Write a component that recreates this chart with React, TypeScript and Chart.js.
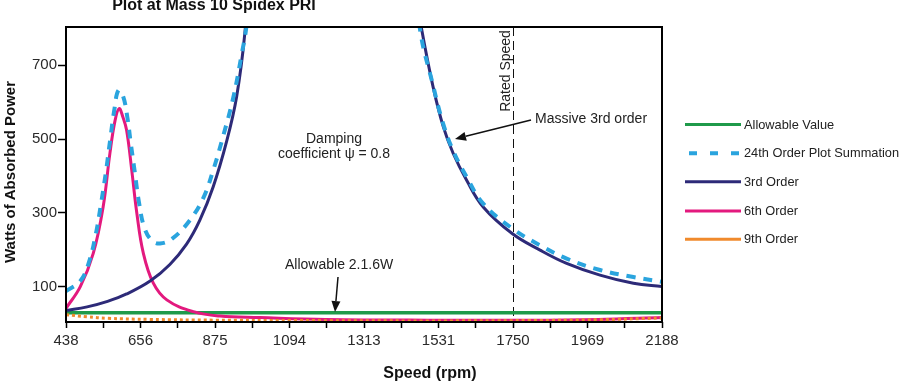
import React, { useEffect, useRef } from 'react';
import { Chart, registerables } from 'chart.js';

Chart.register(...registerables);

const FONT = "'Liberation Sans', Arial, Helvetica, sans-serif";

const chartTitle = 'Plot at Mass 10 Spidex PRI';
const xAxisTitle = 'Speed (rpm)';
const yAxisTitle = 'Watts of Absorbed Power';

const speedMin = 438;
const speedMax = 2188;
const wattsMin = 4;
const wattsMax = 804;
const xTickLabels = ['438', '656', '875', '1094', '1313', '1531', '1750', '1969', '2188'];
const yTickValues = [100, 300, 500, 700];
const ratedSpeed = 1750;
const ratedLabel = 'Rated Speed';

// Allowable Value
const allowableSpeed = [438, 2188];
const allowableWatts = [29, 29];

// 24th Order Plot Summation
const summationSpeed = [438, 480, 505, 525, 540, 555, 568, 580, 592, 606, 618, 628, 640, 652, 668, 690, 714, 750, 800, 841, 870, 900, 929, 954, 968, 985, 1220, 1460, 1477, 1516, 1546, 1575, 1614, 1663, 1748, 1830, 1908, 2006, 2104, 2188];
const summationWatts = [88, 115, 165, 240, 320, 410, 500, 580, 632, 615, 560, 490, 410, 330, 260, 225, 217, 230, 278, 340, 415, 510, 612, 731, 808, 1000, null, 1000, 800, 645, 540, 468, 398, 325, 258, 212, 176, 145, 126, 113];

// 3rd Order
const thirdSpeed = [438, 500, 560, 616, 685, 743, 792, 831, 870, 910, 939, 963, 985, 1220, 1465, 1482, 1516, 1546, 1575, 1614, 1663, 1748, 1830, 1908, 2006, 2104, 2188];
const thirdWatts = [35, 45, 60, 80, 115, 160, 215, 280, 370, 495, 615, 786, 1050, null, 900, 799, 641, 533, 461, 389, 316, 244, 199, 163, 131, 109, 100];

// 6th Order
const sixthSpeed = [438, 480, 518, 547, 567, 582, 594, 605, 616, 631, 646, 665, 694, 734, 812, 890, 1008, 1200, 1500, 1800, 2000, 2188];
const sixthWatts = [41, 100, 190, 316, 462, 550, 583, 560, 524, 416, 299, 191, 110, 64, 32, 20, 16, 11, 9, 9, 11, 16];

// 9th Order
const ninthSpeed = [438, 500, 560, 685, 875, 1100, 1500, 1800, 2000, 2188];
const ninthWatts = [24, 18, 14, 11, 9, 8, 7, 8, 10, 15];

const seriesLabels = ['Allowable Value', '24th Order Plot Summation', '3rd Order', '6th Order', '9th Order'];
const seriesColors = ['#1f9a4a', '#2aa4de', '#2d2a78', '#e3197e', '#f08a2c'];

const annotationDamping = ['Damping', 'coefficient \u03c8 = 0.8'];
const annotationMassive = 'Massive 3rd order';
const annotationAllowable = 'Allowable 2.1.6W';

const toPoints = (xs: number[], ys: (number | null)[]) => xs.map((x, i) => ({ x, y: ys[i] }));

function arrow(ctx: CanvasRenderingContext2D, x1: number, y1: number, x2: number, y2: number) {
  const ang = Math.atan2(y2 - y1, x2 - x1);
  const hl = 11;
  const hw = 4.5;
  const bx = x2 - hl * Math.cos(ang);
  const by = y2 - hl * Math.sin(ang);
  ctx.save();
  ctx.strokeStyle = '#111';
  ctx.fillStyle = '#111';
  ctx.lineWidth = 1.5;
  ctx.beginPath();
  ctx.moveTo(x1, y1);
  ctx.lineTo(bx, by);
  ctx.stroke();
  ctx.beginPath();
  ctx.moveTo(x2, y2);
  ctx.lineTo(bx + hw * Math.sin(ang), by - hw * Math.cos(ang));
  ctx.lineTo(bx - hw * Math.sin(ang), by + hw * Math.cos(ang));
  ctx.closePath();
  ctx.fill();
  ctx.restore();
}

const overlayPlugin = {
  id: 'overlay',
  beforeDatasetsDraw(chart: any) {
    const { ctx, chartArea, scales } = chart;
    const x = Math.round(scales.x.getPixelForValue(ratedSpeed)) + 0.5;
    ctx.save();
    ctx.strokeStyle = '#111';
    ctx.lineWidth = 1;
    ctx.setLineDash([9, 5]);
    ctx.beginPath();
    ctx.moveTo(x, chartArea.top);
    ctx.lineTo(x, chartArea.bottom);
    ctx.stroke();
    ctx.setLineDash([]);
    ctx.fillStyle = '#222';
    ctx.font = `14px ${FONT}`;
    ctx.translate(x - 4, 71);
    ctx.rotate(-Math.PI / 2);
    ctx.textAlign = 'center';
    ctx.textBaseline = 'alphabetic';
    ctx.fillText(ratedLabel, 0, 0);
    ctx.restore();
  },
  afterDraw(chart: any) {
    const { ctx, chartArea } = chart;
    ctx.save();
    // frame
    ctx.strokeStyle = '#000';
    ctx.lineWidth = 2;
    ctx.strokeRect(chartArea.left, chartArea.top, chartArea.right - chartArea.left, chartArea.bottom - chartArea.top);

    // title
    ctx.fillStyle = '#111';
    ctx.font = `bold 16px ${FONT}`;
    ctx.textAlign = 'center';
    ctx.textBaseline = 'alphabetic';
    ctx.fillText(chartTitle, 214, 10);

    // x title
    ctx.font = `bold 16px ${FONT}`;
    ctx.fillText(xAxisTitle, 430, 378);

    // y title
    ctx.save();
    ctx.translate(15, 172);
    ctx.rotate(-Math.PI / 2);
    ctx.font = `bold 15px ${FONT}`;
    ctx.fillText(yAxisTitle, 0, 0);
    ctx.restore();

    // annotations
    ctx.font = `14px ${FONT}`;
    ctx.fillStyle = '#222';
    ctx.textAlign = 'center';
    ctx.fillText(annotationDamping[0], 334, 143);
    ctx.fillText(annotationDamping[1], 334, 158);
    ctx.textAlign = 'left';
    ctx.fillText(annotationMassive, 535, 123);
    ctx.fillText(annotationAllowable, 285, 269);
    arrow(ctx, 531, 120, 455, 139);
    arrow(ctx, 338, 277, 335, 312);

    // legend
    const rows = [124.5, 153.3, 181.8, 211, 239.3];
    ctx.font = `12.8px ${FONT}`;
    ctx.textBaseline = 'middle';
    ctx.textAlign = 'left';
    seriesLabels.forEach((label, i) => {
      const y = rows[i];
      ctx.save();
      ctx.strokeStyle = seriesColors[i];
      ctx.lineWidth = i === 1 ? 4 : 3;
      if (i === 1) ctx.setLineDash([8, 13]);
      ctx.beginPath();
      ctx.moveTo(i === 1 ? 689 : 685, y);
      ctx.lineTo(741, y);
      ctx.stroke();
      ctx.restore();
      ctx.fillStyle = '#222';
      ctx.fillText(label, 744, y + 0.5);
    });
    ctx.restore();
  },
};

export default function App() {
  const canvasRef = useRef<HTMLCanvasElement | null>(null);

  useEffect(() => {
    const canvas = canvasRef.current;
    if (!canvas) return;
    const common = { pointRadius: 0, tension: 0.4, fill: false, clip: 0, spanGaps: false };
    const chart = new Chart(canvas, {
      type: 'line',
      data: {
        datasets: [
          { ...common, label: seriesLabels[4], data: toPoints(ninthSpeed, ninthWatts), borderColor: seriesColors[4], borderWidth: 3, borderDash: [3, 3], order: 0 },
          { ...common, label: seriesLabels[1], data: toPoints(summationSpeed, summationWatts), borderColor: seriesColors[1], borderWidth: 4, borderDash: [9, 8], order: 1 },
          { ...common, label: seriesLabels[2], data: toPoints(thirdSpeed, thirdWatts), borderColor: seriesColors[2], borderWidth: 3, order: 2 },
          { ...common, label: seriesLabels[3], data: toPoints(sixthSpeed, sixthWatts), borderColor: seriesColors[3], borderWidth: 3, order: 3 },
          { ...common, label: seriesLabels[0], data: toPoints(allowableSpeed, allowableWatts), borderColor: seriesColors[0], borderWidth: 3.5, order: 4 },
        ],
      },
      options: {
        animation: false,
        responsive: true,
        maintainAspectRatio: false,
        devicePixelRatio: 1,
        layout: { padding: { left: 0, top: 27, right: 238, bottom: 0 } },
        plugins: { legend: { display: false }, tooltip: { enabled: false }, title: { display: false } },
        events: [],
        scales: {
          x: {
            type: 'linear',
            min: speedMin,
            max: speedMax,
            afterBuildTicks: (axis: any) => {
              const n = (xTickLabels.length - 1) * 2;
              const step = (speedMax - speedMin) / n;
              axis.ticks = Array.from({ length: n + 1 }, (_, i) => ({ value: speedMin + i * step }));
            },
            afterFit: (axis: any) => { axis.height = 61; },
            ticks: {
              autoSkip: false,
              maxRotation: 0,
              minRotation: 0,
              padding: 4,
              color: '#2a2a2a',
              font: { family: FONT, size: 15 },
              callback: (_v: any, i: number) => (i % 2 === 0 ? xTickLabels[i / 2] : ''),
            },
            grid: { display: true, drawOnChartArea: false, drawTicks: true, tickLength: 6, tickColor: '#000', tickWidth: 1.5 },
            border: { display: false },
          },
          y: {
            type: 'linear',
            min: wattsMin,
            max: wattsMax,
            afterBuildTicks: (axis: any) => { axis.ticks = yTickValues.map((v) => ({ value: v })); },
            afterFit: (axis: any) => { axis.width = 66; },
            ticks: {
              padding: 1,
              color: '#2a2a2a',
              font: { family: FONT, size: 15 },
            },
            grid: { display: true, drawOnChartArea: false, drawTicks: true, tickLength: 8, tickColor: '#000', tickWidth: 1.5 },
            border: { display: false },
          },
        },
      },
      plugins: [overlayPlugin],
    } as any);
    return () => chart.destroy();
  }, []);

  return (
    <div style={{ position: 'fixed', left: 0, top: 0, width: 900, height: 383, background: '#fff' }}>
      <canvas ref={canvasRef} />
    </div>
  );
}
